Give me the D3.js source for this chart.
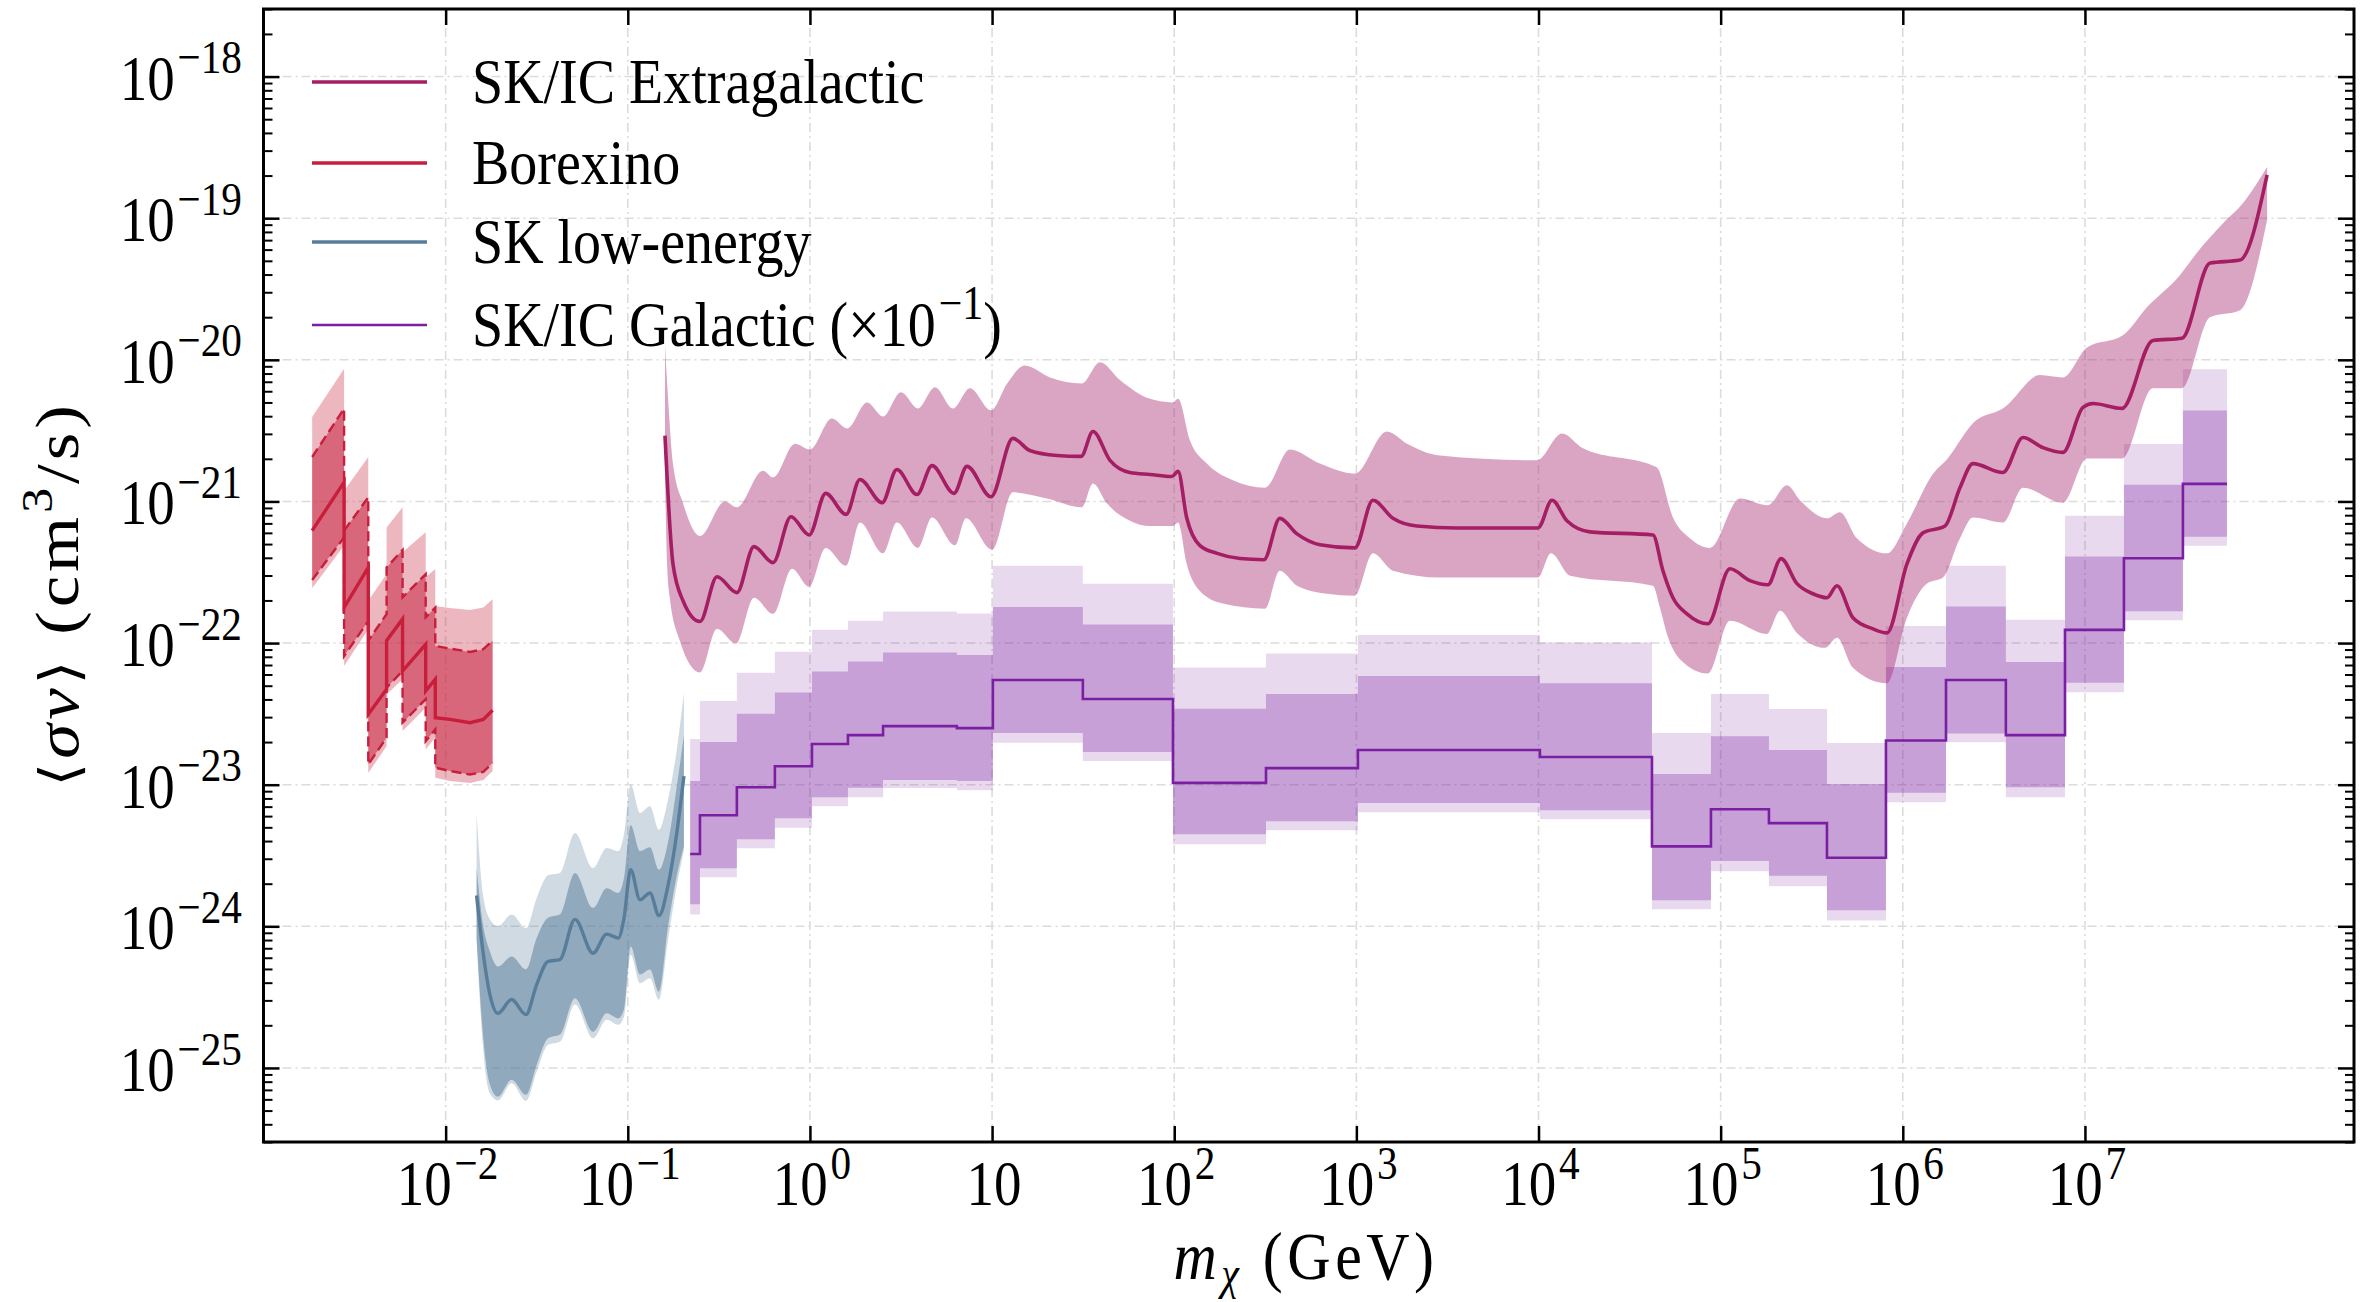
<!DOCTYPE html>
<html>
<head>
<meta charset="utf-8">
<script src="https://cdn.jsdelivr.net/npm/d3@7"></script>
<style>
body { margin: 0; background: #fff; }
text { font-family: "Liberation Serif", "DejaVu Serif", serif; fill: #000; }
</style>
</head>
<body>
<div id="chart"></div>
<script>
// ---- data (mass in GeV, <sigma v> in cm^3/s) ----

// SK/IC Extragalactic: central line and band edges
let extraCentral = [[0.160,2.92e-21],[0.177,3.63e-22],[0.201,1.99e-22],[0.249,1.42e-22],[0.309,2.94e-22],[0.397,2.27e-22],[0.493,4.8e-22],[0.627,3.7e-22],[0.787,7.8e-22],[0.99,5.8e-22],[1.22,1.14e-21],[1.58,8.1e-22],[1.88,1.43e-21],[2.49,9.8e-22],[3.0,1.68e-21],[3.87,1.12e-21],[4.68,1.79e-21],[6.18,1.14e-21],[7.28,1.77e-21],[9.86,1.08e-21],[13.0,2.79e-21],[16.1,2.29e-21],[22.7,2.11e-21],[30.8,2.08e-21],[35.8,3.12e-21],[44.4,1.95e-21],[57.1,1.60e-21],[73.6,1.55e-21],[97.2,1.50e-21],[105,1.63e-21],[117,7.7e-22],[138,4.9e-22],[172,4.3e-22],[230,3.95e-22],[311,3.88e-22],[380,7.6e-22],[472,5.9e-22],[631,4.95e-22],[982,4.7e-22],[1233,1.02e-21],[1588,7.6e-22],[2152,6.7e-22],[3567,6.5e-22],[9930,6.5e-22],[11860,1.02e-21],[14320,7.3e-22],[19150,6.1e-22],[42500,5.8e-22],[48200,3.24e-22],[54700,2.09e-22],[65300,1.61e-22],[85100,1.37e-22],[112400,3.35e-22],[144800,2.76e-22],[181800,2.58e-22],[214400,3.95e-22],[262400,2.63e-22],[321000,2.23e-22],[383700,2.09e-22],[435000,2.54e-22],[532400,1.51e-22],[685500,1.26e-22],[818500,1.18e-22],[1.054e6,3.63e-22],[1.29e6,6.0e-22],[1.703e6,6.7e-22],[2.06e6,1.25e-21],[2.427e6,1.85e-21],[3.548e6,1.60e-21],[4.57e6,2.83e-21],[5.88e6,2.40e-21],[7.57e6,2.22e-21],[9.75e6,4.61e-21],[1.107e7,4.92e-21],[1.596e7,4.54e-21],[2.36e7,1.37e-20],[3.41e7,1.42e-20],[4.86e7,4.82e-20],[7.10e7,5.06e-20],[1.0e8,2.02e-19]];
let extraUpper = [[0.160,1.27e-20],[0.166,5.6e-21],[0.177,1.85e-21],[0.201,9.7e-22],[0.249,5.7e-22],[0.341,1.0e-21],[0.397,9.1e-22],[0.552,1.65e-21],[0.627,1.48e-21],[0.828,2.56e-21],[1.0,2.33e-21],[1.32,3.85e-21],[1.60,3.28e-21],[2.06,5.0e-21],[2.52,3.98e-21],[3.16,5.9e-21],[3.92,4.54e-21],[4.86,6.4e-21],[6.1,4.54e-21],[7.56,6.3e-21],[9.86,4.4e-21],[12.1,6.8e-21],[15.1,9.1e-21],[20.8,7.5e-21],[31.1,6.8e-21],[39.1,9.6e-21],[50.3,7.2e-21],[73.6,5.3e-21],[98.4,5.0e-21],[105,5.3e-21],[122,2.69e-21],[151,1.85e-21],[210,1.41e-21],[315,1.25e-21],[432,2.33e-21],[631,1.85e-21],[982,1.57e-21],[1472,3.12e-21],[1896,2.56e-21],[2878,2.11e-21],[9800,1.95e-21],[13450,3.02e-21],[17540,2.37e-21],[42500,1.79e-21],[44700,1.74e-21],[54700,7.7e-22],[67800,5.5e-22],[87300,4.7e-22],[127600,1.05e-21],[181800,9.4e-22],[231200,1.30e-21],[272400,1.02e-21],[383700,7.6e-22],[451600,8.4e-22],[559800,5.5e-22],[818500,4.3e-22],[1.054e6,7.0e-22],[1.465e6,1.57e-21],[1.746e6,1.98e-21],[2.427e6,3.56e-21],[3.73e6,4.77e-21],[3.875e6,5.0e-21],[5.66e6,7.8e-21],[7.57e6,7.5e-21],[1.026e7,1.22e-20],[1.617e7,1.49e-20],[2.19e7,2.35e-20],[3.32e7,3.96e-20],[4.12e7,5.7e-20],[5.73e7,9.2e-20],[7.38e7,1.28e-19],[1.0e8,2.30e-19]];
let extraLower = [[0.160,1.65e-21],[0.164,3.82e-22],[0.170,2.09e-22],[0.193,1.04e-22],[0.249,6.2e-23],[0.309,1.26e-22],[0.392,9.9e-23],[0.493,2.09e-22],[0.627,1.61e-22],[0.797,3.35e-22],[0.99,2.50e-22],[1.22,4.7e-22],[1.58,3.52e-22],[1.88,7.1e-22],[2.52,4.3e-22],[3.0,7.1e-22],[3.92,4.7e-22],[4.68,7.7e-22],[6.25,4.9e-22],[7.18,7.6e-22],[10.0,4.56e-22],[13.0,1.16e-21],[20.0,1.05e-21],[31.1,9.1e-22],[35.8,1.34e-21],[42.7,9.7e-22],[57.1,7.3e-22],[73.6,6.7e-22],[98.4,6.7e-22],[105,7.1e-22],[117,3.63e-22],[138,2.34e-22],[185,1.90e-22],[315,1.75e-22],[380,3.24e-22],[472,2.54e-22],[689,2.23e-22],[982,2.16e-22],[1233,4.3e-22],[1588,3.24e-22],[2878,2.90e-22],[9930,2.90e-22],[11700,4.3e-22],[14880,2.99e-22],[42500,2.54e-22],[46400,1.78e-22],[50700,1.16e-22],[59800,7.7e-23],[85100,6.1e-23],[112400,1.44e-22],[179600,1.16e-22],[211800,1.69e-22],[262400,1.18e-22],[374000,9.25e-23],[435000,1.09e-22],[532400,6.7e-23],[818500,5.2e-23],[1.054e6,1.51e-22],[1.358e6,2.63e-22],[1.661e6,2.90e-22],[2.06e6,5.5e-22],[2.427e6,7.7e-22],[3.548e6,7.1e-22],[4.57e6,1.25e-21],[7.57e6,9.8e-22],[1.026e7,2.01e-21],[1.596e7,2.01e-21],[2.36e7,6.3e-21],[3.41e7,6.3e-21],[4.86e7,2.0e-20],[7.10e7,2.24e-20],[1.0e8,9.7e-20]];

// Borexino: segments joined by vertical jumps (repeated masses)
let borexMass     = [1.85e-3,2.77e-3,2.77e-3,3.76e-3,3.76e-3,4.74e-3,4.74e-3,5.80e-3,5.80e-3,7.77e-3,7.77e-3,8.77e-3,8.77e-3,1.056e-2,1.36e-2,1.61e-2,1.81e-2];
let borexCentral  = [6.22e-22,1.37e-21,1.78e-22,3.42e-22,3.14e-23,4.72e-23,1.04e-22,1.48e-22,6.35e-23,9.8e-23,4.59e-23,5.55e-23,2.97e-23,2.89e-23,2.74e-23,2.89e-23,3.35e-23];
let borexInnerHi  = [2.06e-21,4.52e-21,6.22e-22,1.07e-21,1.04e-22,1.60e-22,3.42e-22,4.54e-22,2.10e-22,3.07e-22,1.52e-22,1.78e-22,9.55e-23,9.14e-23,8.66e-23,9.05e-23,1.04e-22];
let borexInnerLo  = [2.79e-22,5.58e-22,8.1e-23,1.43e-22,1.39e-23,2.15e-23,4.84e-23,6.35e-23,2.74e-23,4.01e-23,2.03e-23,2.46e-23,1.32e-23,1.25e-23,1.18e-23,1.23e-23,1.43e-23];
let borexOuterHi  = [3.94e-21,8.66e-21,1.19e-21,2.06e-21,1.99e-22,3.07e-22,6.56e-22,9.1e-22,4.37e-22,6.05e-22,2.91e-22,3.33e-22,1.83e-22,1.77e-22,1.71e-22,1.78e-22,2.04e-22];
let borexOuterLo  = [2.44e-22,4.88e-22,6.9e-23,1.25e-22,1.21e-23,1.87e-23,4.34e-23,5.55e-23,2.39e-23,3.50e-23,1.77e-23,2.15e-23,1.12e-23,1.06e-23,1.03e-23,1.08e-23,1.25e-23];

// SK low-energy
let skMass     = [0.01479,0.01603,0.0175,0.01936,0.02303,0.0276,0.0316,0.0365,0.0424,0.0513,0.0644,0.0766,0.0887,0.0953,0.1037,0.1166,0.1324,0.1483,0.1668,0.1854,0.2033];
let skCentral  = [1.65e-24,6.64e-25,3.30e-25,2.43e-25,3.04e-25,2.38e-25,3.88e-25,5.65e-25,5.83e-25,1.12e-24,6.46e-25,8.81e-25,8.26e-25,1.14e-24,2.51e-24,1.54e-24,1.72e-24,1.19e-24,1.98e-24,4.47e-24,1.15e-23];
let skInnerHi  = [2.58e-24,1.03e-24,6.64e-25,5.20e-25,6.12e-25,4.96e-25,8.26e-25,1.15e-24,1.21e-24,2.38e-24,1.35e-24,1.86e-24,1.72e-24,2.19e-24,5.17e-24,3.39e-24,3.61e-24,2.51e-24,3.99e-24,9.5e-24,2.24e-23];
let skInnerLo  = [8.26e-25,1.72e-25,7.61e-26,6.26e-26,8.26e-26,6.47e-26,1.05e-25,1.62e-25,1.72e-25,3.10e-25,1.80e-25,2.43e-25,2.24e-25,2.6e-25,7.2e-25,4.57e-25,4.96e-25,3.46e-25,1.03e-24,2.25e-24,3.67e-24];
let skOuterHi  = [6.32e-24,1.67e-24,1.12e-24,9.98e-25,1.21e-24,9.7e-25,1.58e-24,2.29e-24,2.38e-24,4.56e-24,2.58e-24,3.57e-24,3.39e-24,4.47e-24,1.0e-23,6.32e-24,7.05e-24,4.82e-24,8.0e-24,1.73e-23,4.46e-23];
let skOuterLo  = [7.82e-25,1.41e-25,6.6e-26,5.9e-26,7.8e-26,5.86e-26,9.4e-26,1.46e-25,1.53e-25,2.80e-25,1.62e-25,2.19e-25,2.02e-25,2.3e-25,6.3e-25,3.96e-25,4.30e-25,3.03e-25,8.26e-25,1.91e-24,3.45e-24];

// SK/IC Galactic (x 1e-1): bin edges and per-bin values
let galEdges   = [0.22,0.249,0.397,0.642,1.026,1.617,2.52,6.41,10.1,31.5,98.4,319,1020,10180,41960,88450,184100,383400,808200,1.726e6,3.68e6,7.77e6,1.637e7,3.45e7,6.02e7];
let galCentral = [3.24e-24,6.09e-24,9.6e-24,1.35e-23,1.94e-23,2.24e-23,2.59e-23,2.51e-23,5.49e-23,4.03e-23,1.03e-23,1.31e-23,1.76e-23,1.57e-23,3.67e-24,6.71e-24,5.35e-24,3.05e-24,2.05e-23,5.49e-23,2.24e-23,1.24e-22,3.97e-22,1.33e-21];
let galInnerHi = [1.06e-23,2.0e-23,3.17e-23,4.47e-23,6.29e-23,7.4e-23,8.57e-23,8.25e-23,1.80e-22,1.35e-22,3.44e-23,4.37e-23,5.86e-23,5.2e-23,1.19e-23,2.2e-23,1.76e-23,1.01e-23,6.79e-23,1.81e-22,7.36e-23,4.09e-22,1.31e-21,4.39e-21];
let galInnerLo = [1.43e-24,2.57e-24,4.12e-24,5.8e-24,8.17e-24,9.5e-24,1.08e-23,1.06e-23,2.32e-23,1.70e-23,4.47e-24,5.52e-24,7.44e-24,6.6e-24,1.53e-24,2.89e-24,2.28e-24,1.30e-24,8.79e-24,2.30e-23,9.61e-24,5.25e-23,1.68e-22,5.64e-22];
let galOuterHi = [2.10e-23,3.90e-23,6.18e-23,8.7e-23,1.24e-22,1.44e-22,1.67e-22,1.62e-22,3.52e-22,2.62e-22,6.71e-23,8.43e-23,1.14e-22,1.01e-22,2.32e-23,4.37e-23,3.42e-23,1.97e-23,1.32e-22,3.52e-22,1.46e-22,7.94e-22,2.54e-21,8.57e-21];
let galOuterLo = [1.21e-24,2.22e-24,3.56e-24,4.96e-24,7.05e-24,8.17e-24,9.46e-24,9.15e-24,1.98e-23,1.47e-23,3.80e-24,4.77e-24,6.4e-24,5.7e-24,1.32e-24,2.45e-24,1.92e-24,1.10e-24,7.52e-24,1.99e-23,8.17e-24,4.49e-23,1.45e-22,4.87e-22];

// ticks and labels
let xTickVals = [1e-2,1e-1,1e0,1e1,1e2,1e3,1e4,1e5,1e6,1e7];
let xTickLabels = ["10^{−2}","10^{−1}","10^{0}","10","10^{2}","10^{3}","10^{4}","10^{5}","10^{6}","10^{7}"];
let yTickVals = [1e-25,1e-24,1e-23,1e-22,1e-21,1e-20,1e-19,1e-18];
let yTickLabels = ["10^{−25}","10^{−24}","10^{−23}","10^{−22}","10^{−21}","10^{−20}","10^{−19}","10^{−18}"];
let legendLabels = ["SK/IC Extragalactic","Borexino","SK low-energy","SK/IC Galactic (×10^{−1})"];

// ---- chart ----
let W = 2369, H = 1302;
let margin = {left: 263.5, top: 9, right: 15, bottom: 160};
let stretch = 1.14;   // text in the reference is drawn tall and narrow

let svg = d3.select("#chart").append("svg")
    .attr("width", W)
    .attr("height", H);

let x = d3.scaleLog().domain([1e-3, 3e8]).range([margin.left, W - margin.right]);
let y = d3.scaleLog().domain([3e-26, 3e-18]).range([H - margin.bottom, margin.top]);

svg.append("defs").append("clipPath").attr("id", "plot")
    .append("rect")
    .attr("x", margin.left).attr("y", margin.top)
    .attr("width", W - margin.left - margin.right)
    .attr("height", H - margin.top - margin.bottom);

// grid
let gridDash = "9,4,2,4";
xTickVals.forEach(t =>
    svg.append("line")
    .attr("x1", x(t)).attr("x2", x(t))
    .attr("y1", margin.top).attr("y2", H - margin.bottom)
    .attr("stroke", "#dcdcdc").attr("stroke-width", 1.6)
    .attr("stroke-dasharray", gridDash)
);
yTickVals.forEach(t =>
    svg.append("line")
    .attr("x1", margin.left).attr("x2", W - margin.right)
    .attr("y1", y(t)).attr("y2", y(t))
    .attr("stroke", "#dcdcdc").attr("stroke-width", 1.6)
    .attr("stroke-dasharray", gridDash)
);

let plot = svg.append("g").attr("clip-path", "url(#plot)");

let smooth = d3.line().curve(d3.curveMonotoneX).x(d => x(d[0])).y(d => y(d[1]));

function bandPath(upper, lower, gen){
    let a = gen(upper);
    let b = gen(lower.slice().reverse());
    return a + "L" + b.slice(1) + "Z";
}

// SK/IC Galactic
let galColor = "#7b1fa2";
let galPts = galEdges.map((m, i) => {
    let k = Math.min(i, galCentral.length - 1);
    return {m: m, c: galCentral[k], ih: galInnerHi[k], il: galInnerLo[k], oh: galOuterHi[k], ol: galOuterLo[k]};
});
let galArea = (lo, hi) => d3.area().curve(d3.curveStepAfter)
    .x(d => x(d.m)).y0(d => y(d[lo])).y1(d => y(d[hi]));

plot.append("path").datum(galPts)
    .attr("d", galArea("ol", "oh"))
    .attr("fill", galColor).attr("fill-opacity", 0.17);
plot.append("path").datum(galPts)
    .attr("d", galArea("il", "ih"))
    .attr("fill", galColor).attr("fill-opacity", 0.30);
plot.append("path").datum(galPts)
    .attr("d", d3.line().curve(d3.curveStepAfter).x(d => x(d.m)).y(d => y(d.c)))
    .attr("fill", "none").attr("stroke", galColor).attr("stroke-width", 2.6);

// SK low-energy
let skColor = "#587d9b";
let skPts = skMass.map((m, i) => ({m: m, c: skCentral[i], ih: skInnerHi[i], il: skInnerLo[i], oh: skOuterHi[i], ol: skOuterLo[i]}));
let skArea = (lo, hi) => d3.area().curve(d3.curveMonotoneX)
    .x(d => x(d.m)).y0(d => y(d[lo])).y1(d => y(d[hi]));

plot.append("path").datum(skPts)
    .attr("d", skArea("ol", "oh"))
    .attr("fill", skColor).attr("fill-opacity", 0.285);
plot.append("path").datum(skPts)
    .attr("d", skArea("il", "ih"))
    .attr("fill", skColor).attr("fill-opacity", 0.53);
plot.append("path").datum(skPts)
    .attr("d", d3.line().curve(d3.curveMonotoneX).x(d => x(d.m)).y(d => y(d.c)))
    .attr("fill", "none").attr("stroke", skColor).attr("stroke-width", 3.4);

// Borexino
let bxColor = "#c81e3c";
let bxPts = borexMass.map((m, i) => ({m: m, c: borexCentral[i], ih: borexInnerHi[i], il: borexInnerLo[i], oh: borexOuterHi[i], ol: borexOuterLo[i]}));
let bxArea = (lo, hi) => d3.area().x(d => x(d.m)).y0(d => y(d[lo])).y1(d => y(d[hi]));
let bxLine = key => d3.line().x(d => x(d.m)).y(d => y(d[key]));

plot.append("path").datum(bxPts)
    .attr("d", bxArea("ol", "oh"))
    .attr("fill", bxColor).attr("fill-opacity", 0.32);
plot.append("path").datum(bxPts)
    .attr("d", bxArea("il", "ih"))
    .attr("fill", bxColor).attr("fill-opacity", 0.52);
["ih", "il"].forEach(k =>
    plot.append("path").datum(bxPts)
    .attr("d", bxLine(k))
    .attr("fill", "none").attr("stroke", bxColor).attr("stroke-width", 2.4)
    .attr("stroke-dasharray", "10,5")
);
plot.append("path").datum(bxPts)
    .attr("d", bxLine("c"))
    .attr("fill", "none").attr("stroke", bxColor).attr("stroke-width", 3.4);

// SK/IC Extragalactic
let exColor = "#a51e64";
plot.append("path")
    .attr("d", bandPath(extraUpper, extraLower, smooth))
    .attr("fill", "#a8286e").attr("fill-opacity", 0.42);
plot.append("path").datum(extraCentral)
    .attr("d", smooth)
    .attr("fill", "none").attr("stroke", exColor).attr("stroke-width", 3.6);

// ---- axes ----
function styleAxis(g, w){
    g.select(".domain").remove();
    g.selectAll(".tick line").attr("stroke", "#000").attr("stroke-width", w);
    g.selectAll(".tick text").remove();
}

let minorY = [];
for (let e = -26; e <= -18; e++) {
    for (let k = 2; k <= 9; k++) {
        let v = +(k + "e" + e);
        if (v >= 3e-26 && v <= 3e-18) minorY.push(v);
    }
}

svg.append("g").attr("transform", `translate(0,${H - margin.bottom})`)
    .call(d3.axisBottom(x).tickValues(xTickVals).tickSizeInner(-16).tickSizeOuter(0))
    .call(g => styleAxis(g, 2.5));
svg.append("g").attr("transform", `translate(0,${margin.top})`)
    .call(d3.axisTop(x).tickValues(xTickVals).tickSizeInner(-16).tickSizeOuter(0))
    .call(g => styleAxis(g, 2.5));
svg.append("g").attr("transform", `translate(${margin.left},0)`)
    .call(d3.axisLeft(y).tickValues(yTickVals).tickSizeInner(-16).tickSizeOuter(0))
    .call(g => styleAxis(g, 2.5));
svg.append("g").attr("transform", `translate(${margin.left},0)`)
    .call(d3.axisLeft(y).tickValues(minorY).tickSizeInner(-9).tickSizeOuter(0))
    .call(g => styleAxis(g, 2));
svg.append("g").attr("transform", `translate(${W - margin.right},0)`)
    .call(d3.axisRight(y).tickValues(yTickVals).tickSizeInner(-16).tickSizeOuter(0))
    .call(g => styleAxis(g, 2.5));
svg.append("g").attr("transform", `translate(${W - margin.right},0)`)
    .call(d3.axisRight(y).tickValues(minorY).tickSizeInner(-9).tickSizeOuter(0))
    .call(g => styleAxis(g, 2));

svg.append("rect")
    .attr("x", margin.left).attr("y", margin.top)
    .attr("width", W - margin.left - margin.right)
    .attr("height", H - margin.top - margin.bottom)
    .attr("fill", "none").attr("stroke", "#000").attr("stroke-width", 3);

// text with ^{..} superscripts and _{..} subscripts
function rich(textSel, str, size){
    let parts = str.split(/(\^\{[^}]*\}|_\{[^}]*\})/).filter(s => s.length);
    let shift = 0;
    parts.forEach(p => {
        let ts = textSel.append("tspan");
        if (p.startsWith("^{")) {
            ts.attr("dy", -0.42 * size - shift).attr("dx", 0.05 * size)
              .attr("font-size", 0.75 * size).text(p.slice(2, -1));
            shift = -0.42 * size;
        } else if (p.startsWith("_{")) {
            ts.attr("dy", 0.22 * size - shift).attr("font-size", 0.72 * size).text(p.slice(2, -1));
            shift = 0.22 * size;
        } else {
            ts.attr("dy", -shift).text(p);
            shift = 0;
        }
    });
    return textSel;
}

function label(px, py, anchor, size, rotate){
    let g = svg.append("g")
        .attr("transform", `translate(${px},${py}) scale(1,${stretch})` + (rotate ? " rotate(-90)" : ""));
    return g.append("text").attr("text-anchor", anchor).attr("font-size", size);
}

let tickFont = 55;
xTickVals.forEach((t, i) => rich(label(x(t) + 2, 1205, "middle", tickFont), xTickLabels[i], tickFont));
yTickVals.forEach((t, i) => rich(label(242, y(t) + 23, "end", tickFont), yTickLabels[i], tickFont));

// axis titles
let xt = label(1306, 1279, "middle", 60).attr("letter-spacing", 4.5);
xt.append("tspan").attr("font-style", "italic").text("m");
xt.append("tspan").attr("font-style", "italic").attr("font-size", 40).attr("dy", 9).text("χ");
xt.append("tspan").attr("dy", -9).text(" (GeV)");

let yt = label(78, 594, "middle", 62, true).attr("letter-spacing", 3.5);
yt.append("tspan").attr("font-family", "DejaVu Serif").attr("font-size", 54).text("⟨");
yt.append("tspan").attr("font-style", "italic").text("σv");
yt.append("tspan").attr("font-family", "DejaVu Serif").attr("font-size", 54).text("⟩");
yt.append("tspan").text(" (cm");
yt.append("tspan").attr("font-size", 44).attr("dy", -26).text("3");
yt.append("tspan").attr("dy", 26).text("/s)");

// legend
let legendColors = [exColor, bxColor, skColor, galColor];
let legendWidths = [3.6, 3.6, 3.6, 2.6];
let legendRows = [82, 163, 242, 325];
legendLabels.forEach((name, i) => {
    svg.append("line")
        .attr("x1", 312).attr("x2", 427)
        .attr("y1", legendRows[i]).attr("y2", legendRows[i])
        .attr("stroke", legendColors[i]).attr("stroke-width", legendWidths[i]);
    rich(label(472, legendRows[i] + 21, "start", 56), name, 56);
});
</script>
</body>
</html>
